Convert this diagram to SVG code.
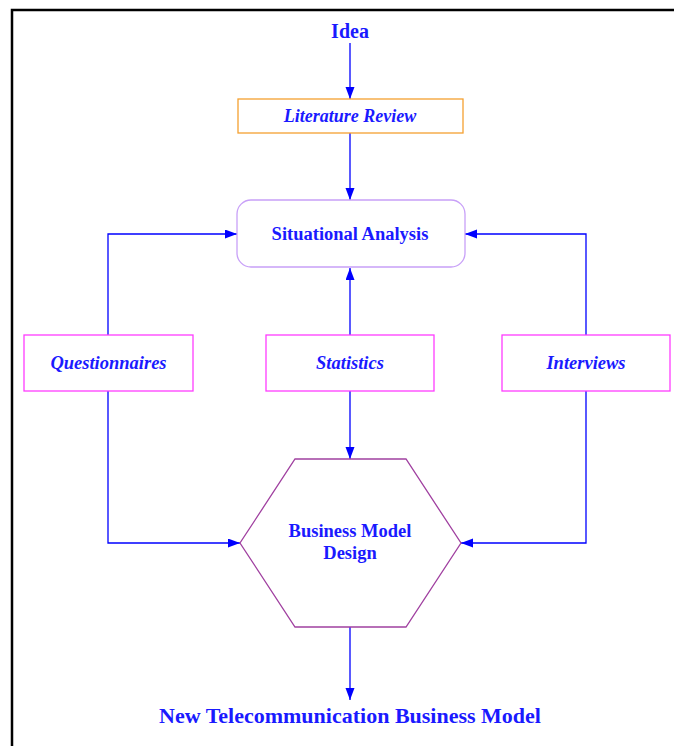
<svg xmlns="http://www.w3.org/2000/svg" width="674" height="746" viewBox="0 0 674 746">
<defs>
<marker id="ah" markerUnits="userSpaceOnUse" markerWidth="12" markerHeight="10" refX="12" refY="4.5" orient="auto">
<path d="M0,0 L12,4.5 L0,9 z" fill="#0000ff"/>
</marker>
<style>
.t{font-family:"Liberation Serif","Times New Roman",serif;font-weight:bold;fill:#1a1aff;text-anchor:middle}
.i{font-style:italic}
.c{fill:none;stroke:#0000ff;stroke-width:1.3;marker-end:url(#ah)}
.m{fill:#fff;stroke:#ff3cff;stroke-width:1.3}
</style>
</defs>
<rect width="674" height="746" fill="#fff"/>
<path d="M12,746 V10 H674" fill="none" stroke="#000" stroke-width="2.5"/>
<g id="connectors">
<path class="c" d="M350,43 V99"/>
<path class="c" d="M350,133 V200"/>
<path class="c" d="M108,335 V234 H237"/>
<path class="c" d="M586,335 V234 H465"/>
<path class="c" d="M350,335 V268"/>
<path class="c" d="M350,391 V459"/>
<path class="c" d="M108,391 V543 H240"/>
<path class="c" d="M586,391 V543 H461"/>
<path class="c" d="M350,627 V700"/>
</g>
<g id="idea"><text class="t" x="350" y="38" font-size="20">Idea</text></g>
<g id="literature">
<rect x="238" y="99" width="225" height="34" fill="#fff" stroke="#f5a030" stroke-width="1.3"/>
<text class="t i" x="350" y="121.5" font-size="18">Literature Review</text>
</g>
<g id="situational">
<rect x="237" y="200" width="228" height="67" rx="14" fill="#fff" stroke="#c8a0f8" stroke-width="1.3"/>
<text class="t" x="350" y="240" font-size="18.5">Situational Analysis</text>
</g>
<g id="questionnaires">
<rect class="m" x="24" y="335" width="169" height="56"/>
<text class="t i" x="108.5" y="369" font-size="18.5">Questionnaires</text>
</g>
<g id="statistics">
<rect class="m" x="266" y="335" width="168" height="56"/>
<text class="t i" x="350" y="369" font-size="18.5">Statistics</text>
</g>
<g id="interviews">
<rect class="m" x="502" y="335" width="168" height="56"/>
<text class="t i" x="586" y="369" font-size="18.5">Interviews</text>
</g>
<g id="bmd">
<polygon points="295,459 406,459 461,543 406,627 295,627 240,543" fill="#fff" stroke="#a040a0" stroke-width="1.3"/>
<text class="t" x="350" y="537" font-size="18.5">Business Model</text>
<text class="t" x="350" y="559" font-size="18.5">Design</text>
</g>
<g id="result"><text class="t" x="350" y="723" font-size="22">New Telecommunication Business Model</text></g>
</svg>
